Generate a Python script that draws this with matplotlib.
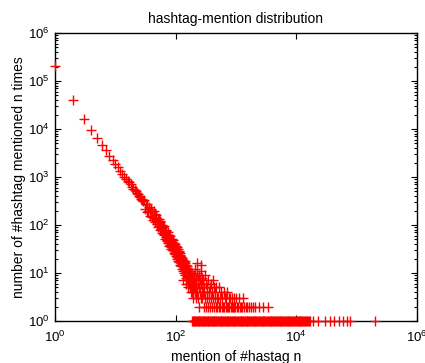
import matplotlib
matplotlib.use("Agg")
import matplotlib.pyplot as plt
from matplotlib.ticker import LogLocator, NullLocator

plt.rcParams['font.family'] = ['Liberation Sans', 'DejaVu Sans']
plt.rcParams['mathtext.fontset'] = 'custom'
plt.rcParams['mathtext.rm'] = 'Liberation Sans'
plt.rcParams['mathtext.it'] = 'Liberation Sans:italic'
plt.rcParams['mathtext.bf'] = 'Liberation Sans:bold'

# head of the distribution, one point per mention count n
head_n = list(range(1, 30))
head_count = [204000, 40000, 15800, 9500, 6500, 4700, 3600, 2800, 2240, 1900,
              1585, 1318, 1148, 1000, 890, 830, 776, 708, 630, 575,
              537, 501, 468, 436, 407, 380, 355, 331, 309]

# middle part, noisier
mid_n = list(range(30, 121))
mid_count = [330, 213, 270, 187, 280, 194, 237, 154, 198, 218,
             149, 186, 130, 196, 139, 168, 113, 142, 159, 106,
             134, 90, 133, 96, 118, 79, 120, 81, 98, 67,
             100, 69, 90, 61, 95, 64, 76, 50, 78, 55,
             76, 47, 63, 48, 70, 42, 60, 45, 61, 37,
             52, 39, 58, 35, 49, 31, 51, 35, 43, 30,
             48, 30, 41, 26, 42, 30, 36, 25, 40, 26,
             34, 23, 36, 25, 32, 20, 34, 22, 28, 18,
             31, 22, 28, 17, 29, 18, 24, 15, 26, 17, 23]

# scattered region where counts get small
low_n = list(range(121, 201))
low_count = [16, 22, 19, 14, 21, 17, 12, 20, 15, 18,
             11, 19, 14, 7, 17, 13, 16, 10, 15, 12,
             18, 9, 14, 11, 16, 8, 13, 10, 15, 12,
             6, 11, 14, 9, 12, 8, 13, 10, 5, 11,
             9, 12, 7, 10, 8, 11, 6, 9, 10, 7,
             9, 5, 8, 10, 6, 9, 7, 8, 4, 9,
             6, 8, 5, 7, 9, 6, 4, 8, 5, 7,
             6, 3, 7, 5, 6, 8, 4, 6, 5, 7]

sparse_n = [205, 208, 210, 213, 216, 218, 221, 224, 227, 230, 233, 236, 239, 242,
            245, 248, 251, 255, 258, 260, 263, 266, 270, 274, 278, 282, 286, 290,
            295, 300, 305, 310, 315, 320, 325, 330, 336, 342, 348, 354, 360, 367,
            374, 380, 388, 395, 402, 410, 418, 426, 435, 444, 453, 462, 472, 482,
            492, 505, 515, 528, 540, 553, 566, 580, 594, 608, 623, 638, 653, 670,
            687, 705, 722, 741, 760, 780, 800, 822, 845, 868, 892, 916, 941, 967,
            995, 1030, 1070, 1110, 1150, 1200, 1250, 1310, 1370, 1440, 1520, 1620,
            1750, 1900, 2100, 2400, 2800, 3400]
sparse_count = [9, 4, 12, 6, 3, 8, 5, 10, 4, 16, 7, 3, 6, 9,
                5, 2, 7, 4, 11, 15, 3, 6, 5, 8, 3, 4, 7, 2,
                5, 4, 9, 3, 6, 2, 4, 5, 3, 7, 2, 4, 3, 5,
                2, 6, 3, 4, 2, 7, 3, 5, 2, 4, 3, 2, 5, 3,
                2, 3, 2, 5, 2, 3, 4, 2, 3, 2, 4, 2, 3, 2,
                3, 2, 4, 2, 3, 2, 3, 2, 3, 2, 2, 3, 2, 2,
                3, 2, 2, 3, 2, 2, 2, 3, 2, 2, 2, 2,
                2, 2, 2, 2, 2, 2]

# hashtags seen exactly once at a given mention count
single_n = [190, 195, 200, 205, 210, 217, 225, 232, 240, 247, 255, 262, 270,
            280, 290, 300, 310, 320, 330, 340, 350, 362, 375, 388, 400, 412,
            425, 440, 455, 470, 485, 502, 520, 537, 555, 572, 590, 610, 630,
            652, 675, 697, 720, 745, 770, 795, 820, 850, 880, 910, 940, 970,
            1000, 1035, 1070, 1110, 1150, 1190, 1230, 1270, 1310, 1355, 1400,
            1450, 1500, 1550, 1600, 1660, 1720, 1780, 1840, 1900, 1970, 2030,
            2100, 2170, 2250, 2320, 2400, 2490, 2580, 2670, 2760, 2850, 2950,
            3050, 3150, 3260, 3380, 3500, 3620, 3740, 3870, 4000, 4150, 4300,
            4450, 4600, 4750, 4920, 5100, 5270, 5450, 5650, 5850, 6050, 6250,
            6470, 6700, 6950, 7200, 7450, 7700, 7970, 8250, 8550, 8850, 9170,
            9500, 9850, 10200, 10550, 10900, 11300, 11700, 12100, 12500, 12950,
            13400, 13900, 14400, 14950, 15500, 16000, 16600,
            19200, 23200, 30000, 36500, 42000, 50000, 59000, 69000, 78000, 200000]


def drawDistribution(ax):
    n_all = head_n + mid_n + low_n + sparse_n + single_n
    c_all = head_count + mid_count + low_count + sparse_count + [1] * len(single_n)
    ax.plot(n_all, c_all, linestyle='none', marker='+', color='#ff0000',
            markersize=7.5, markeredgewidth=1.0, clip_on=False, zorder=5)

    ax.set_xscale('log')
    ax.set_yscale('log')
    ax.set_xlim(1, 1e6)
    ax.set_ylim(1, 1e6)
    ax.set_xticks([1, 1e2, 1e4, 1e6])
    ax.xaxis.set_minor_locator(NullLocator())
    ax.yaxis.set_major_locator(LogLocator(base=10, numticks=10))
    ax.yaxis.set_minor_locator(LogLocator(base=10, subs=range(2, 10), numticks=10))

    ax.tick_params(which='both', direction='in', top=True, right=True,
                   labelsize=9.5, width=0.8)
    ax.tick_params(axis='x', pad=6)
    ax.tick_params(axis='y', pad=4)
    ax.tick_params(which='major', length=4)
    ax.tick_params(which='minor', length=2)
    for s in ax.spines.values():
        s.set_linewidth(1.0)

    ax.set_title('hashtag-mention distribution', fontsize=10, pad=7)
    ax.set_xlabel('mention of #hastag n', fontsize=10, labelpad=4)
    ax.set_ylabel('number of #hashtag mentioned n times', fontsize=10, labelpad=1)


def main():
    fig = plt.figure(figsize=(4.25, 3.63), dpi=100)
    ax = fig.add_axes([55 / 425, 42 / 363, 362 / 425, 288 / 363])
    drawDistribution(ax)
    fig.savefig('out.png', dpi=100)


main()
